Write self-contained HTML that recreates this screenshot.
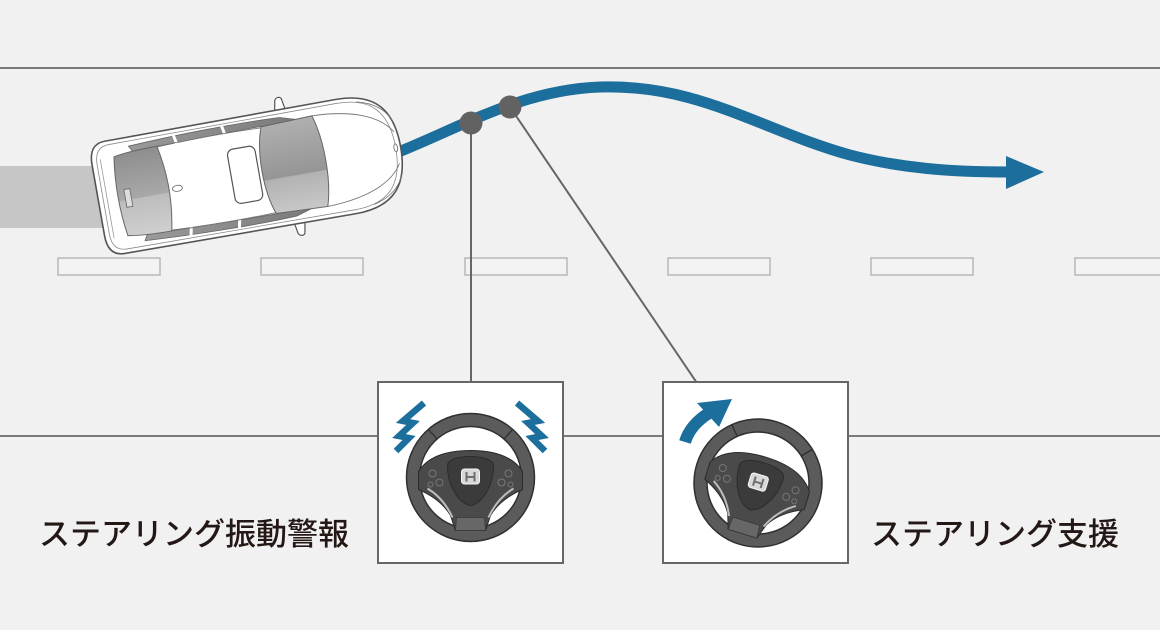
<!DOCTYPE html>
<html>
<head>
<meta charset="utf-8">
<style>
html,body{margin:0;padding:0;background:#f1f1f1;}
svg{display:block;}
.lbl{font-family:"Liberation Sans","Noto Sans CJK JP",sans-serif;font-size:31px;font-weight:500;fill:#231815;}
</style>
</head>
<body>
<svg width="1160" height="630" viewBox="0 0 1160 630" xmlns="http://www.w3.org/2000/svg">
<defs>
  <linearGradient id="gR" x1="0" y1="0" x2="0" y2="1">
    <stop offset="0" stop-color="#8e8e8e"/>
    <stop offset="0.55" stop-color="#a8a8a8"/>
    <stop offset="0.56" stop-color="#bdbdbd"/>
    <stop offset="1" stop-color="#cfcfcf"/>
  </linearGradient>
  <linearGradient id="gW" x1="0" y1="0" x2="0" y2="1">
    <stop offset="0" stop-color="#b0b0b0"/>
    <stop offset="0.6" stop-color="#959595"/>
    <stop offset="0.61" stop-color="#b2b2b2"/>
    <stop offset="1" stop-color="#c8c8c8"/>
  </linearGradient>
  <linearGradient id="gS" x1="0" y1="0" x2="1" y2="0">
    <stop offset="0" stop-color="#9a9a9a"/>
    <stop offset="1" stop-color="#7a7a7a"/>
  </linearGradient>
  <g id="wheel">
    <circle r="57.5" fill="none" stroke="#303030" stroke-width="14.5"/>
    <circle r="57.5" fill="none" stroke="#5b5b5b" stroke-width="11.5"/>
    <line x1="-33.5" y1="-38.5" x2="-42.5" y2="-48.5" stroke="#2e2e2e" stroke-width="1.3"/>
    <line x1="33.5" y1="-38.5" x2="42.5" y2="-48.5" stroke="#2e2e2e" stroke-width="1.3"/>
    <path d="M -52,-6 C -42,-22 -22,-27 0,-27 C 22,-27 42,-22 52,-6 L 52,12 C 38,18 27,26 20,38 L 15,53 L -15,53 L -20,38 C -27,26 -38,18 -52,12 Z" fill="#4a4a4a" stroke="#2a2a2a" stroke-width="1"/>
    <path d="M -43,11 C -33,17 -24,27 -18,40" fill="none" stroke="#bdbdbd" stroke-width="2"/>
    <path d="M 43,11 C 33,17 24,27 18,40" fill="none" stroke="#bdbdbd" stroke-width="2"/>
    <path d="M -23,-12 C -23,-24 23,-24 23,-12 C 23,8 12,26 0,28 C -12,26 -23,8 -23,-12 Z" fill="#3b3b3b" stroke="#2c2c2c" stroke-width="1"/>
    <path d="M -14,40 L 14,40 L 15,53 L -15,53 Z" fill="#676767" stroke="#3a3a3a" stroke-width="0.8"/>
    <circle cx="-38" cy="-4" r="3.5" fill="none" stroke="#777" stroke-width="1"/>
    <circle cx="-31" cy="5" r="3.5" fill="none" stroke="#777" stroke-width="1"/>
    <circle cx="-40" cy="7" r="2.5" fill="none" stroke="#777" stroke-width="1"/>
    <circle cx="38" cy="-4" r="3.5" fill="none" stroke="#777" stroke-width="1"/>
    <circle cx="31" cy="5" r="3.5" fill="none" stroke="#777" stroke-width="1"/>
    <circle cx="40" cy="7" r="2.5" fill="none" stroke="#777" stroke-width="1"/>
    <rect x="-9" y="-8.5" width="18" height="15" rx="3" fill="#d8d8d8" stroke="#f4f4f4" stroke-width="1"/>
    <path d="M -5,-5.5 L -3,-5.5 L -3,-1.5 L 3,-1.5 L 3,-5.5 L 5,-5.5 L 5,4 L 3,4 L 3,0.5 L -3,0.5 L -3,4 L -5,4 Z" fill="#6e6e6e"/>
  </g>
</defs>

<rect width="1160" height="630" fill="#f1f1f1"/>

<!-- trail -->
<rect x="0" y="166" width="130" height="62" fill="#c6c6c6"/>

<!-- dashes -->
<g fill="#f3f3f3" stroke="#b8b8b8" stroke-width="1.5">
  <rect x="58" y="258" width="102" height="17"/>
  <rect x="261" y="258" width="102" height="17"/>
  <rect x="465" y="258" width="102" height="17"/>
  <rect x="668" y="258" width="102" height="17"/>
  <rect x="871" y="258" width="102" height="17"/>
  <rect x="1075" y="258" width="102" height="17"/>
</g>

<!-- road lines -->
<line x1="0" y1="68" x2="1160" y2="68" stroke="#7a7a7a" stroke-width="2"/>
<line x1="0" y1="436" x2="1160" y2="436" stroke="#7a7a7a" stroke-width="2"/>

<!-- blue path -->
<path d="M 396,153 C 460,128 520,90 600,87 C 700,84 760,130 850,155 C 900,168 950,172 1008,172" fill="none" stroke="#1c6e9c" stroke-width="11"/>
<polygon points="1006,156 1044,172 1006,189" fill="#1c6e9c"/>

<!-- car -->
<g transform="translate(247,174) rotate(-10)">
  <path d="M 38,-56 L 40,-67 C 41,-71 47,-71 47,-67 L 49,-56 Z" fill="#fff" stroke="#555" stroke-width="1.2"/>
  <path d="M 38,56 L 40,67 C 41,71 47,71 47,67 L 49,56 Z" fill="#fff" stroke="#555" stroke-width="1.2"/>
  <path d="M -134,-57 L 100,-58 C 138,-58 156,-40 156,0 C 156,40 138,58 100,58 L -134,57 C -147,57 -151,48 -151,36 L -151,-36 C -151,-48 -147,-57 -134,-57 Z" fill="#fff" stroke="#555" stroke-width="1.6"/>
  <path d="M -131,-53 L 100,-54 C 134,-54 151,-38 151,0 C 151,38 134,54 100,54 L -131,53 C -142,53 -146,46 -146,35 L -146,-35 C -146,-46 -142,-53 -131,-53 Z" fill="none" stroke="#8a8a8a" stroke-width="0.8"/>
  <!-- side windows -->
  <path d="M -112,-48 C -60,-51 0,-52 42,-50 L 62,-44 C 20,-45 -60,-44 -108,-41 Z" fill="url(#gS)" stroke="#666" stroke-width="0.8"/>
  <path d="M -112,48 C -60,51 0,52 42,50 L 62,44 C 20,45 -60,44 -108,41 Z" fill="url(#gS)" stroke="#666" stroke-width="0.8"/>
  <line x1="-66" y1="-52" x2="-64" y2="-42" stroke="#fff" stroke-width="3"/>
  <line x1="-17" y1="-53" x2="-15" y2="-43" stroke="#fff" stroke-width="3"/>
  <line x1="-66" y1="52" x2="-64" y2="42" stroke="#fff" stroke-width="3"/>
  <line x1="-17" y1="53" x2="-15" y2="43" stroke="#fff" stroke-width="3"/>
  <!-- rear glass -->
  <path d="M -128,-40 C -118,-42 -100,-43 -84,-43 C -78,-15 -78,15 -84,43 C -100,43 -118,42 -128,40 C -132,15 -132,-15 -128,-40 Z" fill="url(#gR)" stroke="#666" stroke-width="1"/>
  <rect x="-124" y="-6" width="6" height="18" fill="#ddd" stroke="#666" stroke-width="0.8"/>
  <!-- roof -->
  <path d="M -84,-43 C -40,-44 0,-44 22,-43" fill="none" stroke="#777" stroke-width="0.9"/>
  <path d="M -84,43 C -40,44 0,44 22,43" fill="none" stroke="#777" stroke-width="0.9"/>
  <ellipse cx="-71" cy="2" rx="5" ry="3" fill="#fff" stroke="#666" stroke-width="0.8"/>
  <rect x="-16" y="-27" width="28" height="55" rx="6" fill="#fff" stroke="#555" stroke-width="1.2"/>
  <!-- windshield -->
  <path d="M 22,-44 C 13,-20 13,20 22,44 L 74,46 C 82,20 82,-20 74,-46 Z" fill="url(#gW)" stroke="#666" stroke-width="1"/>
  <!-- hood lines -->
  <path d="M 74,-46 C 110,-45 140,-36 152,-16" fill="none" stroke="#777" stroke-width="0.9"/>
  <path d="M 74,46 C 110,45 140,36 152,16" fill="none" stroke="#777" stroke-width="0.9"/>
  <path d="M 120,-52 C 138,-48 148,-38 152,-28" fill="none" stroke="#777" stroke-width="0.8"/>
  <path d="M 120,52 C 138,48 148,38 152,28" fill="none" stroke="#777" stroke-width="0.8"/>
  <ellipse cx="151" cy="0" rx="1.8" ry="4" fill="#fff" stroke="#666" stroke-width="0.8"/>
  <line x1="-142" y1="-40" x2="-142" y2="40" stroke="#999" stroke-width="0.8"/>
</g>

<!-- leader lines -->
<line x1="471" y1="123" x2="471" y2="383" stroke="#666" stroke-width="2"/>
<line x1="510" y1="107" x2="697" y2="383" stroke="#666" stroke-width="2"/>
<circle cx="471" cy="123" r="11.5" fill="#626262"/>
<circle cx="510" cy="107" r="11.5" fill="#626262"/>

<!-- boxes -->
<rect x="378" y="382" width="185" height="181" fill="#fff" stroke="#666" stroke-width="2"/>
<rect x="663" y="382" width="185" height="181" fill="#fff" stroke="#666" stroke-width="2"/>

<!-- wheels -->
<use href="#wheel" transform="translate(470.5,477.5)"/>
<use href="#wheel" transform="translate(758,483) rotate(17)"/>

<!-- vibration marks -->
<polyline points="424,403 403,421 413,423 399,436 409,438 396,451" fill="none" stroke="#1c6e9c" stroke-width="6.5" stroke-linejoin="miter"/>
<polyline points="517,403 538,421 528,423 542,436 532,438 545,451" fill="none" stroke="#1c6e9c" stroke-width="6.5" stroke-linejoin="miter"/>

<!-- turn arrow -->
<path d="M 685,442 Q 690,425 709,413" fill="none" stroke="#1c6e9c" stroke-width="12"/>
<polygon points="697,403 732,399 719,427" fill="#1c6e9c"/>

<!-- labels -->
<text x="39" y="545" class="lbl">ステアリング振動警報</text>
<text x="871" y="545" class="lbl">ステアリング支援</text>
</svg>
</body>
</html>
